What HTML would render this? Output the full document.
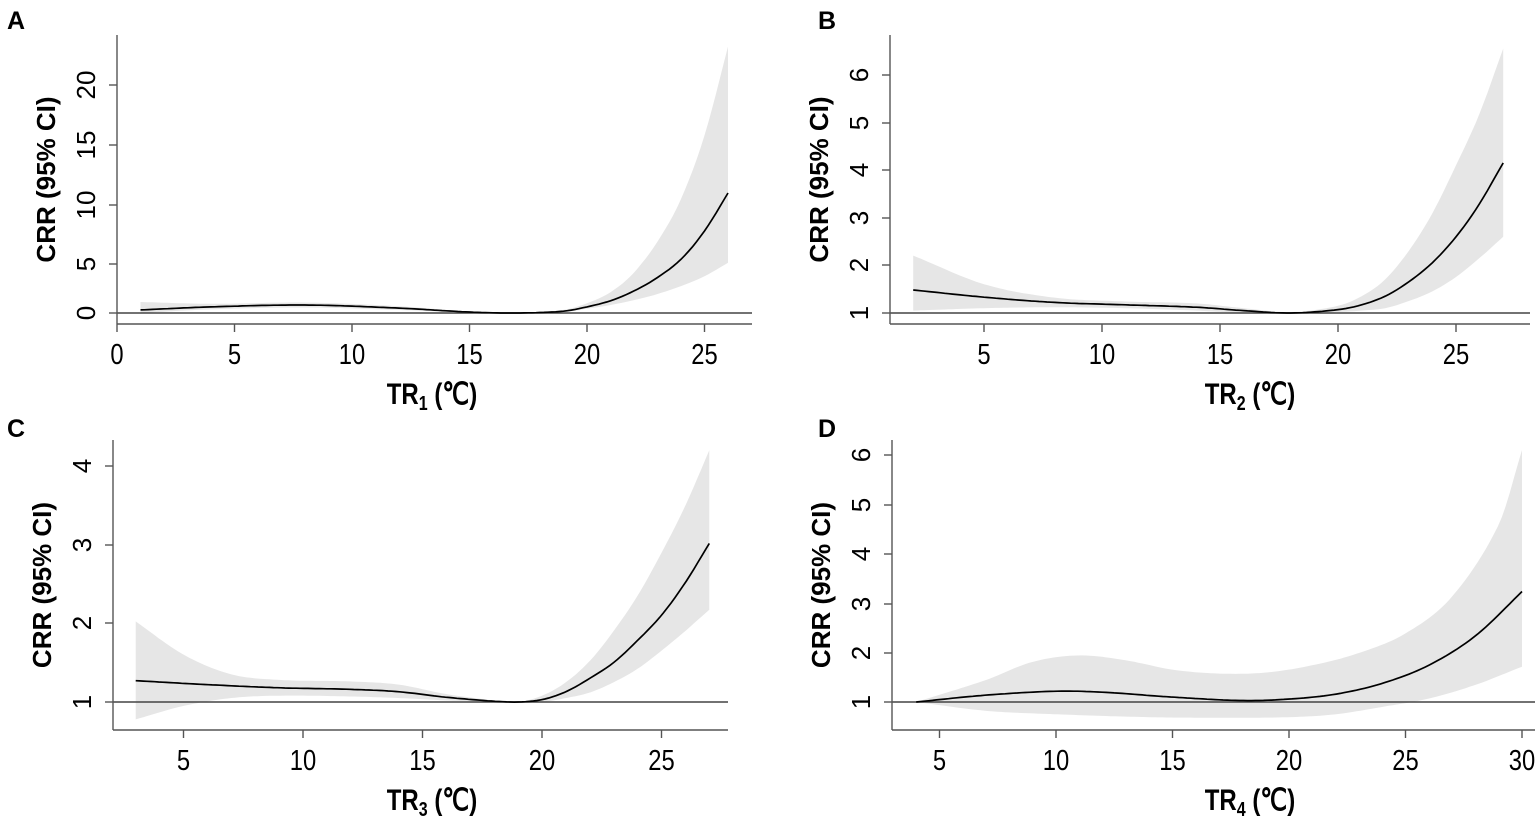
<!DOCTYPE html>
<html><head><meta charset="utf-8"><style>
html,body{margin:0;padding:0;background:#fff;}
svg{display:block;font-family:"Liberation Sans",Arial,sans-serif;}
</style></head><body>
<svg id="s" width="1535" height="818" viewBox="0 0 1535 818" xmlns="http://www.w3.org/2000/svg">
<text x="7" y="29" font-size="25" font-weight="bold">A</text>
<text x="818" y="29" font-size="25" font-weight="bold">B</text>
<text x="7" y="437" font-size="25" font-weight="bold">C</text>
<text x="818" y="437" font-size="25" font-weight="bold">D</text>
</svg>
<script>
var NS="http://www.w3.org/2000/svg",S=document.getElementById('s');
function el(t,a,txt){var e=document.createElementNS(NS,t);for(var k in a)e.setAttribute(k,a[k]);if(txt!==undefined)e.textContent=txt;S.appendChild(e);return e;}
function interp(pts,v){for(var i=0;i<pts.length-1;i++){if(v<=pts[i+1][0]||i==pts.length-2){var a=pts[i],b=pts[i+1];return a[1]+(b[1]-a[1])*(v-a[0])/(b[0]-a[0]);}}}
function cr(pts,v){var n=pts.length,i=0;while(i<n-2&&v>pts[i+1][0])i++;
 var p0=pts[Math.max(i-1,0)],p1=pts[i],p2=pts[i+1],p3=pts[Math.min(i+2,n-1)];
 var t=(v-p1[0])/(p2[0]-p1[0]);var m1=(p2[1]-p0[1])/(p2[0]-p0[0]||1)*(p2[0]-p1[0]);var m2=(p3[1]-p1[1])/(p3[0]-p1[0]||1)*(p2[0]-p1[0]);
 var t2=t*t,t3=t2*t;return (2*t3-3*t2+1)*p1[1]+(t3-2*t2+t)*m1+(-2*t3+3*t2)*p2[1]+(t3-t2)*m2;}
function panel(P){
 var X=function(v){return P.x0+P.xs*v;};
 var ym=P.ym||P.yt;
 var Y=function(v){return interp(ym,v);};
 var lo=P.d0,hi=P.d1,N=150,up=[],dn=[],c=[];
 for(var i=0;i<=N;i++){var v=lo+(hi-lo)*i/N;up.push(X(v).toFixed(1)+','+Y(cr(P.up,v)).toFixed(1));dn.push(X(v).toFixed(1)+','+Y(cr(P.lo,v)).toFixed(1));c.push(X(v).toFixed(1)+','+Y(cr(P.c,v)).toFixed(1));}
 el('polygon',{points:up.concat(dn.reverse()).join(' '),fill:'#e6e6e6'});
 el('line',{x1:P.L,x2:P.R,y1:Y(1),y2:Y(1),stroke:'#444','stroke-width':1.4});
 el('polyline',{points:c.join(' '),fill:'none',stroke:'#000','stroke-width':1.7});
 el('line',{x1:P.L,x2:P.L,y1:P.T,y2:P.B,stroke:'#555','stroke-width':1.4});
 el('line',{x1:P.L,x2:P.R,y1:P.B,y2:P.B,stroke:'#555','stroke-width':1.4});
 P.xt.forEach(function(v){var x=X(v);el('line',{x1:x,x2:x,y1:P.B,y2:P.B+8,stroke:'#555','stroke-width':1.4});
  el('text',{x:0,y:0,'font-size':29,'text-anchor':'middle',transform:'translate('+x+','+(P.B+40)+') scale(0.82,1)'},String(v));});
 P.yt.forEach(function(p){var y=p[1];el('line',{x1:P.L-8,x2:P.L,y1:y,y2:y,stroke:'#555','stroke-width':1.4});
  el('text',{x:0,y:0,'font-size':26,'text-anchor':'middle',transform:'translate('+(P.L-22)+','+y+') rotate(-90)'},String(p[0]));});
 el('text',{x:0,y:0,'font-size':26,'font-weight':'bold','text-anchor':'middle',transform:'translate('+(P.L-62)+','+((P.T+P.B)/2)+') rotate(-90)'},'CRR (95% CI)');
 var t=el('text',{x:0,y:0,'font-size':30,'font-weight':'bold','text-anchor':'middle',transform:'translate('+P.tx+','+(P.B+80)+') scale(0.8,1)'});
 t.innerHTML='TR<tspan font-size="20" dy="6">'+P.n+'</tspan><tspan dy="-6"> (℃)</tspan>';
}
panel({n:1,x0:117,xs:23.5,L:117,R:752,T:35,B:324,d0:1,d1:26,tx:432,
 yt:[[0,313],[5,264],[10,205],[15,145],[20,85]],
 ym:[[1,313],[5,264],[10,205],[15,145],[20,85]],xt:[0,5,10,15,20,25],
 c:[[1,1.25],[4,1.5],[8,1.65],[12,1.4],[15,1.08],[17,1.0],[19,1.15],[20,1.5],[21,2.0],[22,2.8],[23,3.9],[24,5.4],[25,7.8],[26,11.0]],
 up:[[1,1.9],[4,1.75],[8,1.85],[12,1.55],[15,1.12],[17,1.02],[19,1.25],[20,1.8],[21,2.7],[22,4.3],[23,6.9],[24,10.5],[25,15.8],[26,23.2]],
 lo:[[1,1.0],[4,1.3],[8,1.45],[12,1.25],[15,1.03],[17,0.98],[19,1.08],[20,1.35],[21,1.65],[22,2.05],[23,2.55],[24,3.2],[25,4.0],[26,5.1]]});
panel({n:2,x0:866,xs:23.6,L:890,R:1530,T:35,B:324,d0:2,d1:27,tx:1250,
 yt:[[1,313],[2,265],[3,218],[4,170],[5,123],[6,75]],xt:[5,10,15,20,25],
 c:[[2,1.48],[5,1.33],[8,1.22],[11,1.17],[14,1.12],[16,1.05],[18,1.0],[20,1.07],[21,1.17],[22,1.35],[23,1.65],[24,2.05],[25,2.6],[26,3.3],[27,4.15]],
 up:[[2,2.2],[5,1.6],[8,1.32],[11,1.24],[14,1.2],[16,1.1],[18,1.02],[20,1.15],[21,1.35],[22,1.7],[23,2.3],[24,3.1],[25,4.1],[26,5.2],[27,6.55]],
 lo:[[2,1.05],[5,1.1],[8,1.12],[11,1.1],[14,1.05],[16,1.0],[18,0.98],[20,1.02],[21,1.05],[22,1.1],[23,1.25],[24,1.45],[25,1.75],[26,2.15],[27,2.6]]});
panel({n:3,x0:64,xs:23.9,L:113,R:728,T:440,B:730,d0:3,d1:27,tx:432,
 yt:[[1,702],[2,623],[3,545],[4,466]],xt:[5,10,15,20,25],
 c:[[3,1.27],[6,1.22],[9,1.18],[12,1.16],[14,1.13],[16,1.06],[18,1.01],[19,1.0],[20,1.03],[21,1.13],[22,1.3],[23,1.5],[24,1.78],[25,2.1],[26,2.52],[27,3.02]],
 up:[[3,2.02],[5,1.6],[7,1.35],[9,1.28],[12,1.26],[14,1.22],[16,1.1],[18,1.02],[19,1.0],[20,1.08],[21,1.25],[22,1.52],[23,1.9],[24,2.35],[25,2.9],[26,3.5],[27,4.2]],
 lo:[[3,0.78],[5,0.95],[7,1.05],[9,1.08],[12,1.07],[14,1.05],[16,1.02],[18,1.0],[19,0.99],[20,1.0],[21,1.05],[22,1.12],[23,1.25],[24,1.42],[25,1.65],[26,1.9],[27,2.17]]});
panel({n:4,x0:823,xs:23.3,L:892,R:1535,T:440,B:730,d0:4,d1:30,tx:1250,
 yt:[[1,702],[2,653],[3,604],[4,554],[5,505],[6,455]],xt:[5,10,15,20,25,30],
 c:[[4,1.0],[7,1.14],[10,1.22],[12,1.2],[15,1.1],[18,1.03],[20,1.06],[22,1.16],[24,1.38],[26,1.75],[28,2.35],[30,3.25]],
 up:[[4,1.0],[7,1.45],[9,1.82],[11,1.95],[13,1.85],[15,1.66],[17,1.58],[19,1.6],[21,1.75],[23,2.0],[25,2.4],[27,3.15],[29,4.6],[30,6.1]],
 lo:[[4,1.0],[7,0.82],[10,0.75],[14,0.69],[17,0.68],[20,0.69],[22,0.75],[24,0.9],[26,1.07],[28,1.35],[30,1.72]]});
</script>
</body></html>
